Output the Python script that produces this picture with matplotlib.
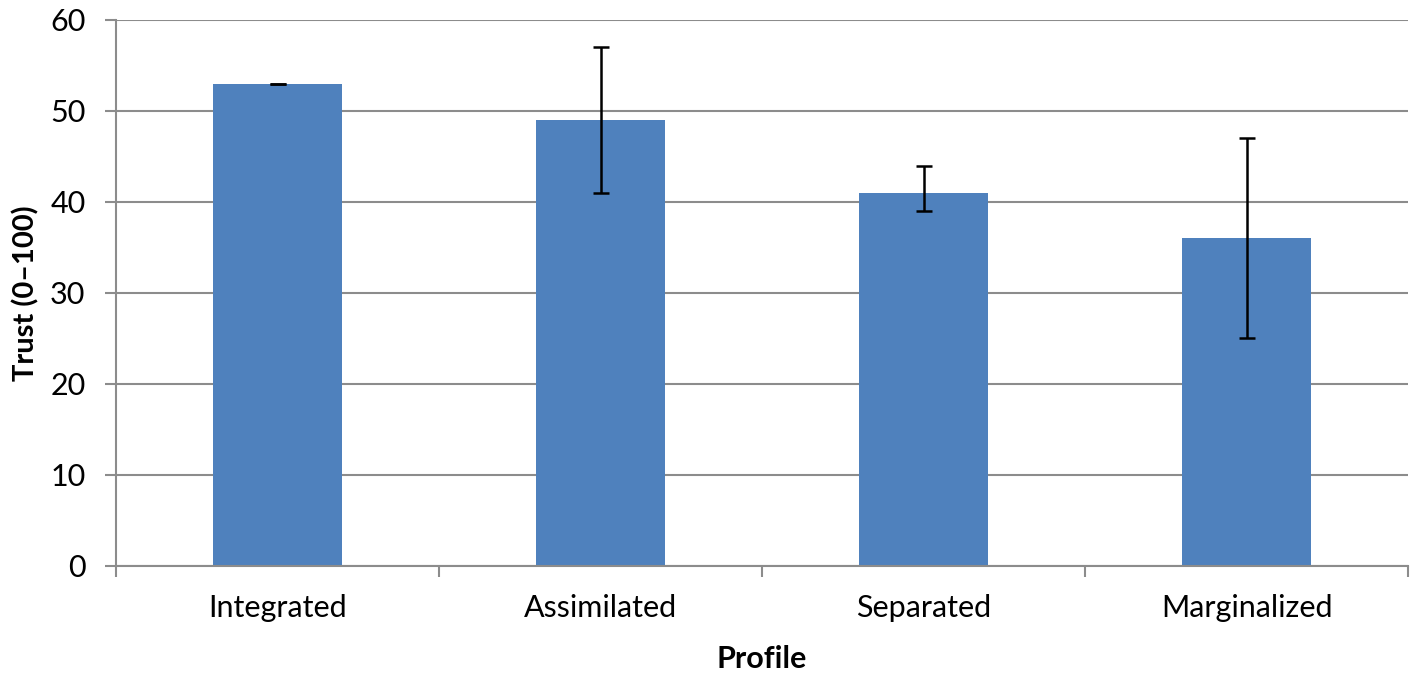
import matplotlib.pyplot as plt
import numpy as np

# Data
profiles = ['Integrated', 'Assimilated', 'Separated', 'Marginalized']
trust = [53, 49, 41, 36]
err_low = [0, 8, 2, 11]
err_high = [0, 8, 3, 11]

plt.rcParams['font.family'] = ['Lato', 'DejaVu Sans']

fig = plt.figure(figsize=(14.17, 6.77), dpi=100)
ax = fig.add_axes([0.0819, 0.164, 0.9118, 0.8065])

x = np.arange(len(profiles))
ax.bar(x, trust, width=0.4, color='#4F81BD', zorder=2)
ax.errorbar(x, trust, yerr=[err_low, err_high], fmt='none', ecolor='black',
            elinewidth=1.8, capsize=5.5, capthick=1.8, zorder=3)

ax.set_xlim(-0.5, 3.5)
ax.set_ylim(0, 60)
ax.set_yticks(range(0, 61, 10))
ax.yaxis.grid(True, color='#8C8C8C', linewidth=1.5, zorder=0)
ax.set_axisbelow(True)

# category ticks sit between the bars
ax.set_xticks(np.arange(-0.5, 4, 1))
ax.set_xticklabels([])
ax.set_xticks(x, minor=True)
ax.set_xticklabels(profiles, minor=True, fontsize=22)
ax.tick_params(axis='x', which='minor', length=0, pad=20)
ax.tick_params(axis='x', which='major', length=8, width=1.5, color='#8C8C8C', direction='out')
ax.tick_params(axis='y', length=8, width=1.5, color='#8C8C8C', labelsize=22, pad=14)

for side in ['top', 'right']:
    ax.spines[side].set_visible(False)
for side in ['left', 'bottom']:
    ax.spines[side].set_color('#8C8C8C')
    ax.spines[side].set_linewidth(1.5)

ax.set_ylabel('Trust (0\u2013100)', fontsize=21, fontweight='bold', labelpad=8)
ax.set_xlabel('Profile', fontsize=22, fontweight='bold', labelpad=17)

fig.savefig('out.png', dpi=100)
